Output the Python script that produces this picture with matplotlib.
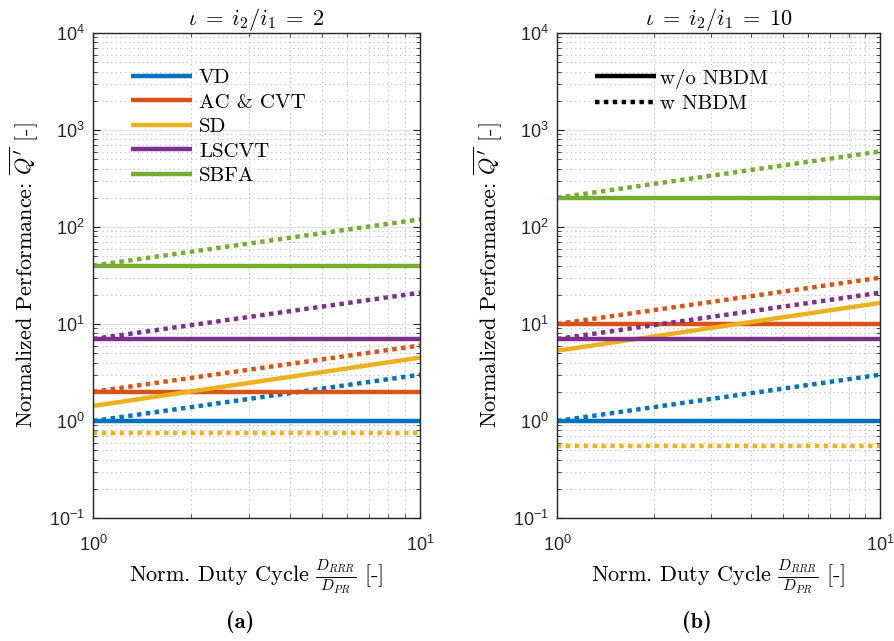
import math
import matplotlib
matplotlib.use("Agg")
import matplotlib.pyplot as plt
from matplotlib.ticker import LogLocator, FuncFormatter, NullFormatter

plt.rcParams['font.family'] = 'cmr10'
plt.rcParams['mathtext.fontset'] = 'cm'
plt.rcParams['axes.formatter.use_mathtext'] = True

# data: endpoints of each power law (x = duty cycle)
duty = [1, 10]
names = ['VD', 'AC & CVT', 'SD', 'LSCVT', 'SBFA']
colors = ['#0072BD', '#D95319', '#EDB120', '#7E2F8E', '#77AC30']

# iota = 2
a_wo = [[1, 1], [2, 2], [1.43, 4.5], [7, 7], [40, 40]]
a_w = [[1, 3], [2, 6], [0.75, 0.75], [7, 21], [40, 120]]
# iota = 10
b_wo = [[1, 1], [10, 10], [5.3, 16.5], [7, 7], [200, 200]]
b_w = [[1, 3], [10, 30], [0.55, 0.55], [7, 21], [200, 600]]

W, H = 894, 641
fig = plt.figure(figsize=(W / 100, H / 100), dpi=100)
ax1 = fig.add_axes([93 / W, 1 - 518 / H, 327 / W, 485 / H])
ax2 = fig.add_axes([557 / W, 1 - 518 / H, 323 / W, 485 / H])

def tick_fmt(v, pos):
    e = int(round(math.log10(v)))
    # \mathregular -> uses the tick label's own (sans) font
    return r'$\mathregular{10^{%d}}$' % e

def style(ax, title):
    ax.set_xscale('log')
    ax.set_yscale('log')
    ax.set_xlim(1, 10)
    ax.set_ylim(0.1, 1e4)
    ax.yaxis.set_major_locator(LogLocator(base=10, numticks=10))
    ax.yaxis.set_minor_locator(LogLocator(base=10, subs=range(2, 10), numticks=20))
    ax.xaxis.set_major_formatter(FuncFormatter(tick_fmt))
    ax.yaxis.set_major_formatter(FuncFormatter(tick_fmt))
    ax.xaxis.set_minor_formatter(NullFormatter())
    ax.yaxis.set_minor_formatter(NullFormatter())
    ax.grid(True, which='major', color='#e2e2e2', linestyle='-', linewidth=1.0)
    ax.grid(True, which='minor', color='#b8b8b8', linestyle=(0, (1, 3)), linewidth=0.8)
    ax.set_axisbelow(True)
    ax.tick_params(which='both', direction='in', top=True, right=True,
                   color='#262626', labelsize=13, labelcolor='#262626',
                   labelfontfamily='Liberation Sans')
    ax.tick_params(which='major', length=5)
    ax.tick_params(which='minor', length=3)
    ax.tick_params(axis='x', pad=12)
    ax.tick_params(axis='y', pad=6)
    for s in ax.spines.values():
        s.set_color('#262626')
        s.set_linewidth(1.0)
    ax.set_title(title, fontsize=16, pad=4)
    ax.set_xlabel(r'Norm. Duty Cycle $\frac{D_{RRR}}{D_{PR}}$ [-]', fontsize=16, labelpad=2)
    ax.set_ylabel(r'Normalized Performance: $\overline{Q^\prime}$ [-]', fontsize=16, labelpad=6)

dots = (0, (1, 1))
handles = []
for i in range(5):
    h, = ax1.plot(duty, a_wo[i], color=colors[i], lw=3.2, solid_capstyle='butt')
    ax1.plot(duty, a_w[i], color=colors[i], lw=3.2, linestyle=dots, dash_capstyle='butt')
    handles.append(h)
    ax2.plot(duty, b_wo[i], color=colors[i], lw=3.2, solid_capstyle='butt')
    ax2.plot(duty, b_w[i], color=colors[i], lw=3.2, linestyle=dots, dash_capstyle='butt')

style(ax1, r'$\iota\; =\; i_2/i_1\; =\; 2$')
style(ax2, r'$\iota\; =\; i_2/i_1\; =\; 10$')

ax1.legend(handles, names, loc='upper left', bbox_to_anchor=(0.06, 0.965), frameon=False,
           fontsize=15, handlelength=2.9, handletextpad=0.35, labelspacing=0.28)

l1, = ax2.plot([], [], color='k', lw=3.2, solid_capstyle='butt')
l2, = ax2.plot([], [], color='k', lw=3.2, linestyle=dots, dash_capstyle='butt')
ax2.legend([l1, l2], ['w/o NBDM', 'w NBDM'], loc='upper left', bbox_to_anchor=(0.06, 0.965),
           frameon=False, fontsize=15, handlelength=2.9, handletextpad=0.2, labelspacing=0.28)

fig.text(240 / W, 1 - 622 / H, '(a)', family='cmb10', ha='center', va='center', fontsize=16)
fig.text(697 / W, 1 - 622 / H, '(b)', family='cmb10', ha='center', va='center', fontsize=16)

fig.savefig('out.png', dpi=100)
